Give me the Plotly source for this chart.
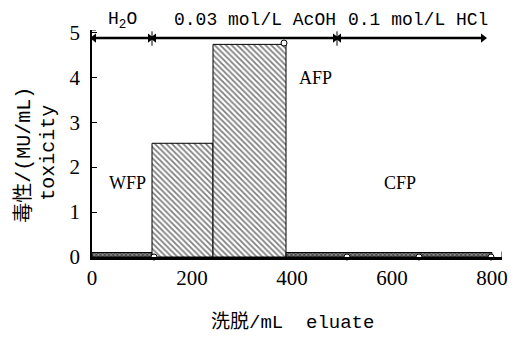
import plotly.graph_objects as go

# fraction edges (mL) and toxicity (MU/mL)
frac_start = [0, 120, 242, 388]
frac_end = [120, 242, 388, 800]
toxicity = [0.1, 2.53, 4.73, 0.1]
frac_pattern = ["x", "\\", "\\", "x"]

# sample points (open circles)
pt_x = [124, 510, 654, 798, 384]
pt_y = [0, 0, 0, 0, 4.76]

# eluent segments
seg_start = [0, 120, 490]
seg_end = [120, 490, 786]
seg_label = ["H<sub>2</sub>O", "0.03 mol/L AcOH", "0.1 mol/L HCl"]
seg_label_x = [60, 326, 652]
arrow_y = 4.87

# peak labels
peak_label = ["WFP", "AFP", "CFP"]
peak_x = [70, 446, 616]
peak_y = [1.64, 3.98, 1.64]

xticks = [0, 200, 400, 600, 800]
yticks = [0, 1, 2, 3, 4, 5]

mono = "Liberation Mono, Noto Sans CJK SC"
serif = "Liberation Serif, Noto Sans CJK SC"

fig = go.Figure()
for s, e, v, p in zip(frac_start, frac_end, toxicity, frac_pattern):
    fig.add_trace(go.Bar(
        x=[(s + e) / 2], y=[v], width=[e - s],
        marker=dict(color="white", line=dict(color="black", width=1),
                    pattern=dict(shape=p, fgcolor="black",
                                 bgcolor="#888888" if p == "x" else "white",
                                 size=3 if p == "x" else 4,
                                 solidity=0.5 if p == "x" else 0.45)),
        showlegend=False, hoverinfo="skip"))

fig.add_trace(go.Scatter(x=pt_x, y=pt_y, mode="markers",
                         marker=dict(symbol="circle", size=6, color="white",
                                     line=dict(color="black", width=1)),
                         showlegend=False, cliponaxis=False, hoverinfo="skip"))

# double-headed arrows for eluent segments
for s, e in zip(seg_start, seg_end):
    fig.add_trace(go.Scatter(x=[s + 4, e - 4], y=[arrow_y, arrow_y], mode="lines+markers",
                             line=dict(color="black", width=2.5),
                             marker=dict(symbol=["triangle-left", "triangle-right"],
                                         size=8, color="black"),
                             showlegend=False, cliponaxis=False, hoverinfo="skip"))

anns = []
for t, x in zip(seg_label, seg_label_x):
    anns.append(dict(x=x, y=1.044, xref="x", yref="paper", yanchor="middle",
                     text=t, showarrow=False,
                     font=dict(family=mono, size=18, color="black")))
for t, x, y in zip(peak_label, peak_x, peak_y):
    anns.append(dict(x=x, y=y, xref="x", yref="y", text=t, showarrow=False,
                     font=dict(family=serif, size=18, color="black")))
anns.append(dict(x=-0.166, y=0.45, xref="paper", yref="paper", xanchor="center",
                 yanchor="middle", text="毒性/(MU/mL)", textangle=-90, showarrow=False,
                 font=dict(family=mono, size=20, color="black")))
anns.append(dict(x=-0.107, y=0.46, xref="paper", yref="paper", xanchor="center",
                 yanchor="middle", text="toxicity", textangle=-90, showarrow=False,
                 font=dict(family=mono, size=20, color="black")))
anns.append(dict(x=0.49, y=-0.29, xref="paper", yref="paper", yanchor="middle",
                 text="洗脱/mL  eluate", showarrow=False,
                 font=dict(family=mono, size=19, color="black")))

shapes = []
for b in seg_start[1:]:
    shapes.append(dict(type="line", x0=b, x1=b, y0=4.7, y1=5.02, xref="x", yref="y",
                       line=dict(color="black", width=1)))
shapes.append(dict(type="line", x0=0, x1=8, y0=5.05, y1=5.05, xref="x", yref="y",
                   line=dict(color="black", width=1)))
shapes.append(dict(type="line", x0=820, x1=820, y0=0, y1=0.12, xref="x", yref="y",
                   line=dict(color="black", width=1)))

fig.update_layout(
    width=529, height=340, margin=dict(l=92, r=27, t=30, b=83),
    plot_bgcolor="white", paper_bgcolor="white", barmode="overlay",
    annotations=anns, shapes=shapes,
    xaxis=dict(range=[0, 820], tickvals=xticks, ticks="", showline=True,
               linecolor="black", linewidth=2.5, showgrid=False, zeroline=False,
               tickfont=dict(family=serif, size=21, color="black"), ticklabelstandoff=0),
    yaxis=dict(range=[0, 5.05], tickvals=yticks, ticks="inside", ticklen=5,
               tickcolor="black", showline=True, linecolor="black", linewidth=1.5,
               showgrid=False, zeroline=False,
               tickfont=dict(family=serif, size=21, color="black"), ticklabelstandoff=6),
)

fig.write_html("out.html")
